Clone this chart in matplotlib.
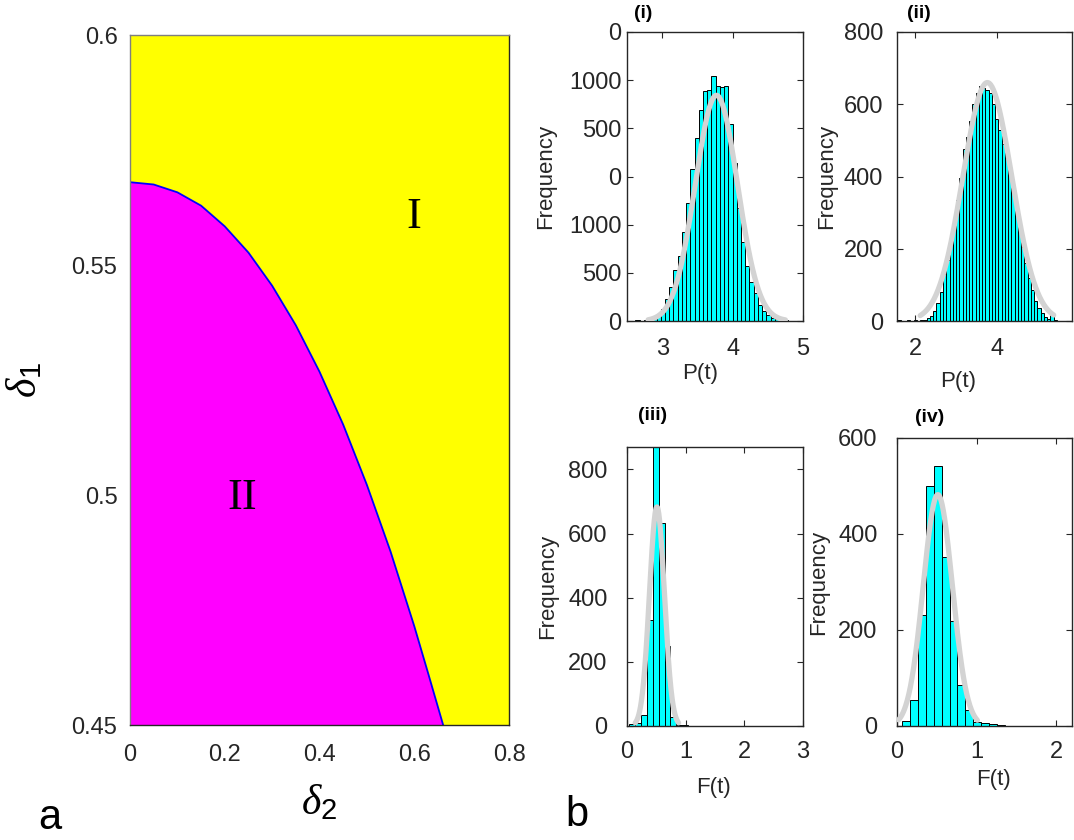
"""
相图 (a) + 四个直方图 (b)
"""
import matplotlib
matplotlib.use('Agg')
import matplotlib.pyplot as plt
import numpy as np

plt.rcParams['font.family'] = ['Liberation Sans', 'DejaVu Sans']
# δ 用衬线斜体, 下标数字用无衬线 (仿 MATLAB tex)
plt.rcParams['mathtext.fontset'] = 'custom'
plt.rcParams['mathtext.it'] = 'Liberation Serif:italic'
plt.rcParams['mathtext.rm'] = 'Liberation Sans'

TICK_COLOR = '#262626'

# ---- panel a: boundary between region I (yellow) and II (magenta) ----
delta2 = [0.0, 0.05, 0.10, 0.15, 0.20, 0.25, 0.30, 0.35, 0.40, 0.45,
          0.50, 0.55, 0.60, 0.63, 0.661]
delta1 = [0.568, 0.5675, 0.5658, 0.5629, 0.5584, 0.5527, 0.5455, 0.5369,
          0.5268, 0.5153, 0.5022, 0.4877, 0.4715, 0.461, 0.45]

# ---- panel b (i): P(t) ----
p1_start, p1_width = 2.56, 0.06
p1_counts = [2, 3, 2, 4, 8, 15, 28, 50, 90, 140, 210, 270, 370, 490, 630, 760,
             876, 955, 960, 1018, 975, 970, 975, 816, 657, 470, 330, 230, 160,
             115, 68, 40, 25, 14, 8, 5, 3, 2, 1, 2]
p1_fit = dict(mu=3.77, sigma=0.30, peak=937, lo=2.80, hi=4.75)

# ---- panel b (ii): P(t) ----
p2_start, p2_width = 1.56, 0.08
p2_counts = [2, 1, 0, 2, 1, 3, 0, 2, 4, 8, 15, 28, 50, 80, 130, 170, 220, 270,
             335, 395, 475, 510, 555, 600, 630, 650, 645, 640, 630, 600, 560,
             530, 490, 450, 410, 360, 305, 255, 205, 160, 120, 85, 55, 35, 22,
             12, 6, 16, 2, 1, 0, 1]
p2_fit = dict(mu=3.77, sigma=0.60, peak=660, lo=2.12, hi=5.40)

# ---- panel b (iii): F(t) ----
p3_start, p3_width = 0.04, 0.10
p3_counts = [5, 8, 35, 330, 870, 632, 250, 28, 4, 2, 1, 1, 0, 1]
p3_fit = dict(mu=0.51, sigma=0.127, peak=683, lo=0.14, hi=0.88)

# ---- panel b (iv): F(t) ----
p4_start, p4_width = 0.06, 0.10
p4_counts = [10, 54, 231, 501, 541, 353, 218, 85, 33, 9, 7, 4, 2]
p4_fit = dict(mu=0.513, sigma=0.183, peak=482, lo=0.02, hi=1.01)

FIG_W, FIG_H = 1074, 840


def rect(l, t, r, b):
    """像素坐标 -> figure 坐标"""
    return [l / FIG_W, 1 - b / FIG_H, (r - l) / FIG_W, (b - t) / FIG_H]


def style_axes(ax, xpad, ypad):
    for s in ax.spines.values():
        s.set_color(TICK_COLOR)
        s.set_linewidth(1.0)
    ax.tick_params(direction='in', length=4, width=0.8, colors=TICK_COLOR,
                   labelsize=17, top=True, right=True)
    ax.tick_params(axis='x', pad=xpad)
    ax.tick_params(axis='y', pad=ypad)


def draw_hist(ax, start, width, counts, fit):
    counts = np.asarray(counts, dtype=float)
    left = start + width * np.arange(len(counts))
    ax.bar(left, counts, width=width, align='edge', color='#00FFFF',
           edgecolor='black', linewidth=0.7, zorder=2)
    xs = np.linspace(fit['lo'], fit['hi'], 200)
    ys = fit['peak'] * np.exp(-0.5 * ((xs - fit['mu']) / fit['sigma']) ** 2)
    ax.plot(xs, ys, color='#D3D3D3', linewidth=3.8, zorder=3,
            solid_capstyle='round')


fig = plt.figure(figsize=(FIG_W / 100, FIG_H / 100), dpi=100)

# ---------------- panel a ----------------
ax_a = fig.add_axes(rect(130, 35, 509, 725))
ax_a.set_facecolor('#FFFF00')
bx = [0.0] + delta2 + [0.0]
by = [0.45] + delta1 + [0.45]
ax_a.fill(bx, by, color='#FF00FF', linewidth=0, zorder=1)
ax_a.plot(delta2, delta1, color='#0000FF', linewidth=1.3, zorder=2)
ax_a.set_xlim(0, 0.8)
ax_a.set_ylim(0.45, 0.6)
ax_a.set_xticks([0, 0.2, 0.4, 0.6, 0.8])
ax_a.set_xticklabels(['0', '0.2', '0.4', '0.6', '0.8'])
ax_a.set_yticks([0.45, 0.5, 0.55, 0.6])
ax_a.set_yticklabels(['0.45', '0.5', '0.55', '0.6'])
style_axes(ax_a, xpad=14, ypad=9)
ax_a.tick_params(length=0)
for side in ('top', 'left'):
    ax_a.spines[side].set_color('#7F7F7F')
ax_a.text(0.6, 0.5605, 'I', fontsize=32, family='Liberation Serif',
          ha='center', va='center', zorder=4)
ax_a.text(0.237, 0.4994, 'II', fontsize=32, family='Liberation Serif',
          ha='center', va='center', zorder=4)
ax_a.set_xlabel(r'$\delta_2$', fontsize=30, va='center')
ax_a.xaxis.set_label_coords(0.5, -(803 - 725) / 690)
ax_a.set_ylabel(r'$\delta_1$', fontsize=30, va='center')
ax_a.yaxis.set_label_coords(-(130 - 25) / 379, (725 - 380) / 690)

# ---------------- panel b ----------------
ax1 = fig.add_axes(rect(627, 32, 803, 321))
ax2 = fig.add_axes(rect(897, 32, 1072, 321))
ax3 = fig.add_axes(rect(627, 447, 803, 726))
ax4 = fig.add_axes(rect(897, 438, 1072, 726))

draw_hist(ax1, p1_start, p1_width, p1_counts, p1_fit)
ax1.set_xlim(2.5, 5)
ax1.set_ylim(0, 1200)
ax1.set_xticks([3, 4, 5])
ax1.set_yticks(np.arange(0, 1201, 200))
ax1.set_yticklabels(['0', '500', '1000', '0', '500', '1000', '0'])
style_axes(ax1, xpad=12, ypad=4)

draw_hist(ax2, p2_start, p2_width, p2_counts, p2_fit)
ax2.set_xlim(1.55, 5.85)
ax2.set_ylim(0, 800)
ax2.set_xticks([2, 4])
ax2.set_yticks([0, 200, 400, 600, 800])
style_axes(ax2, xpad=12, ypad=10)

draw_hist(ax3, p3_start, p3_width, p3_counts, p3_fit)
ax3.set_xlim(0, 3)
ax3.set_ylim(0, 870)
ax3.set_xticks([0, 1, 2, 3])
ax3.set_yticks([0, 200, 400, 600, 800])
style_axes(ax3, xpad=11, ypad=14)

draw_hist(ax4, p4_start, p4_width, p4_counts, p4_fit)
ax4.set_xlim(0, 2.2)
ax4.set_ylim(0, 600)
ax4.set_xticks([0, 1, 2])
ax4.set_yticks([0, 200, 400, 600])
style_axes(ax4, xpad=11, ypad=14)

# 轴标签 (像素位置 -> 轴坐标)
labels = [
    (ax1, 'P(t)', (700, 373), 546, (627, 32, 803, 321)),
    (ax2, 'P(t)', (958, 382), 827, (897, 32, 1072, 321)),
    (ax3, 'F(t)', (713, 788), 548, (627, 447, 803, 726)),
    (ax4, 'F(t)', (993, 779), 819, (897, 438, 1072, 726)),
]
for ax, xl, (lx, ly), fx, (l, t, r, b) in labels:
    ax.set_xlabel(xl, fontsize=16, color=TICK_COLOR, va='center')
    ax.xaxis.set_label_coords((lx - l) / (r - l), -(ly - b) / (b - t))
    ax.set_ylabel('Frequency', fontsize=16, color=TICK_COLOR, va='center')
    ax.yaxis.set_label_coords(-(l - fx) / (r - l), 0.5)

# 子图标题
for txt, (tx, ty) in [('(i)', (643, 13)), ('(ii)', (919, 14)),
                      ('(iii)', (653, 415)), ('(iv)', (930, 417))]:
    fig.text(tx / FIG_W, 1 - ty / FIG_H, txt, fontsize=14, fontweight='bold',
             ha='center', va='center')

# 面板字母
fig.text(50 / FIG_W, 1 - 818 / FIG_H, 'a', fontsize=30, ha='center', va='center')
fig.text(577 / FIG_W, 1 - 815 / FIG_H, 'b', fontsize=30, ha='center', va='center')

fig.savefig('out.png', dpi=100, facecolor='white')
plt.close(fig)
